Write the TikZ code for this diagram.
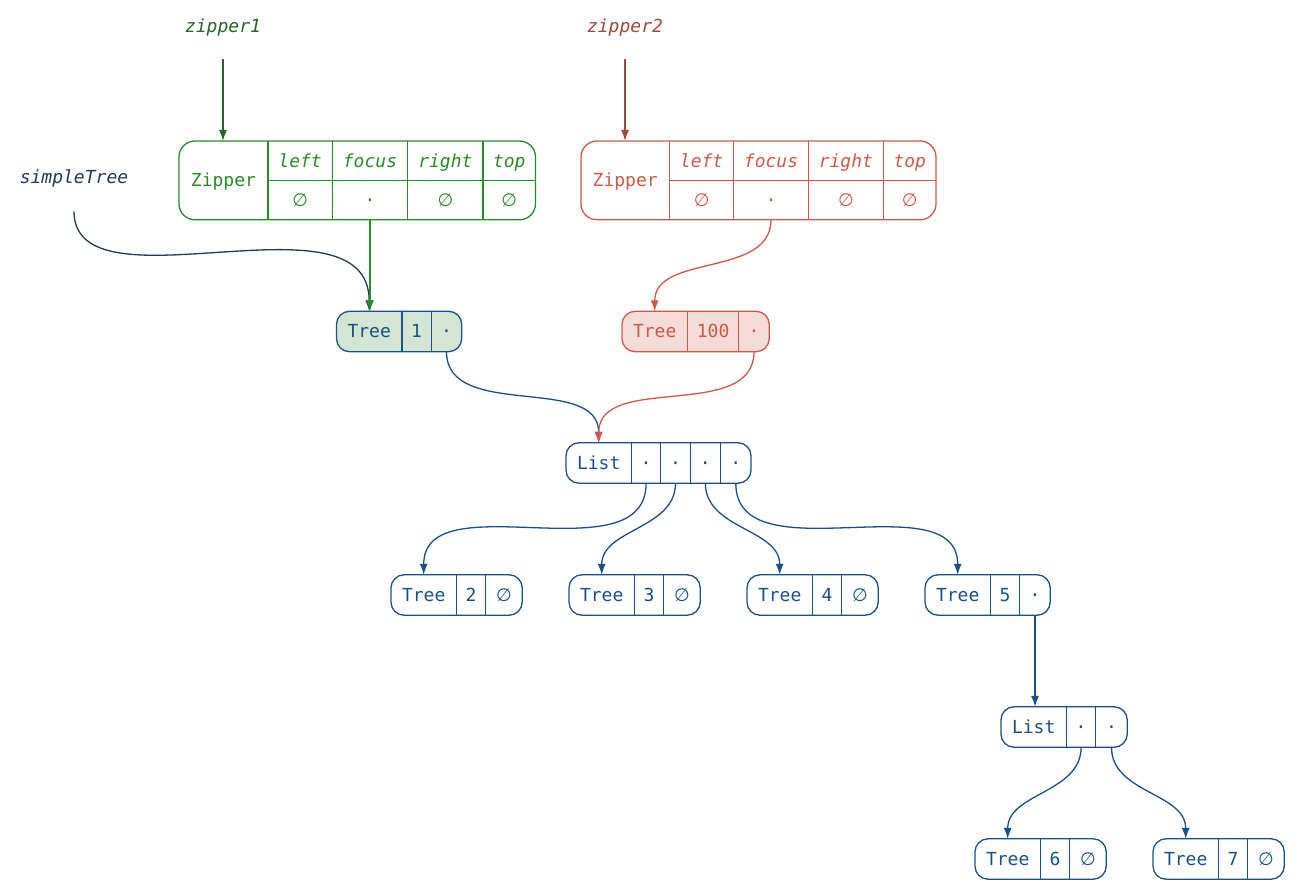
\documentclass[tikz,border=0pt]{standalone}
\usepackage{fontspec}
\setmonofont{DejaVu Sans Mono}
\newfontfamily\symfont{DejaVu Sans}
\newcommand{\nil}{{\symfont ∅}}
\usetikzlibrary{positioning,arrows.meta,backgrounds}

\definecolor{treeblue}{RGB}{26,80,138}
\definecolor{namenavy}{RGB}{30,58,95}
\definecolor{zipgreen}{RGB}{40,140,40}
\definecolor{namegreen}{RGB}{40,100,40}
\definecolor{zipred}{RGB}{208,88,70}
\definecolor{namered}{RGB}{160,72,58}
\definecolor{greenfill}{RGB}{211,230,211}
\definecolor{redfill}{RGB}{245,220,216}

\tikzset{
  cell/.style={inner sep=0pt, minimum height=40pt, text height=13pt, text depth=0pt,
    font=\ttfamily\fontsize{18}{21}\selectfont},
  tcell/.style={cell, text=treeblue},
  hcell/.style={cell, minimum height=39pt, font=\ttfamily\itshape\fontsize{18}{21}\selectfont},
  vcell/.style={cell, minimum height=39pt},
  lbl/.style={font=\ttfamily\itshape\fontsize{18}{21}\selectfont},
  box/.style={line width=1.3pt, rounded corners=13pt},
  sep/.style={line width=1.3pt},
  link/.style={line width=1.3pt, -{Latex[length=11pt,width=8pt]}},
}

\begin{document}
\begin{tikzpicture}[x=1pt,y=-1pt]
    \useasboundingbox (0,0) rectangle (1299,890);

    % Names
    \node[lbl, text=namegreen] (zip1) at (223,28) {zipper1};
    \node[lbl, text=namered] (zip2) at (625,28) {zipper2};
    \node[lbl, text=namenavy] (simple) at (74,178) {simpleTree};

    % Zipper 1
    \node[cell, text=zipgreen, minimum width=88.5pt, minimum height=78pt, anchor=north west] (z1) at (179,141) {Zipper};
    \node[hcell, text=zipgreen, minimum width=64pt, anchor=north west] (z1l) at (z1.north east) {left};
    \node[hcell, text=zipgreen, minimum width=75pt, right=0pt of z1l] (z1f) {focus};
    \node[hcell, text=zipgreen, minimum width=75pt, right=0pt of z1f] (z1r) {right};
    \node[hcell, text=zipgreen, minimum width=52pt, right=0pt of z1r] (z1t) {top};
    \node[vcell, text=zipgreen, minimum width=64pt, below=0pt of z1l] (z1vl) {\nil};
    \node[vcell, text=zipgreen, minimum width=75pt, below=0pt of z1f] (z1vf) {·};
    \node[vcell, text=zipgreen, minimum width=75pt, below=0pt of z1r] (z1vr) {\nil};
    \node[vcell, text=zipgreen, minimum width=52pt, below=0pt of z1t] (z1vt) {\nil};
    \draw[box, rounded corners=16pt, zipgreen] (z1.north west) rectangle (z1vt.south east);
    \foreach \c in {l,f,r,t}
        \draw[sep, zipgreen] (z1\c.north west) -- (z1v\c.south west);
    \draw[sep, zipgreen] (z1l.south west) -- (z1t.south east);

    % Zipper 2
    \node[cell, text=zipred, minimum width=88pt, minimum height=78pt, anchor=north west] (z2) at (581,141) {Zipper};
    \node[hcell, text=zipred, minimum width=64pt, anchor=north west] (z2l) at (z2.north east) {left};
    \node[hcell, text=zipred, minimum width=74pt, right=0pt of z2l] (z2f) {focus};
    \node[hcell, text=zipred, minimum width=75pt, right=0pt of z2f] (z2r) {right};
    \node[hcell, text=zipred, minimum width=52pt, right=0pt of z2r] (z2t) {top};
    \node[vcell, text=zipred, minimum width=64pt, below=0pt of z2l] (z2vl) {\nil};
    \node[vcell, text=zipred, minimum width=74pt, below=0pt of z2f] (z2vf) {·};
    \node[vcell, text=zipred, minimum width=75pt, below=0pt of z2r] (z2vr) {\nil};
    \node[vcell, text=zipred, minimum width=52pt, below=0pt of z2t] (z2vt) {\nil};
    \draw[box, rounded corners=16pt, zipred] (z2.north west) rectangle (z2vt.south east);
    \foreach \c in {l,f,r,t}
        \draw[sep, zipred] (z2\c.north west) -- (z2v\c.south west);
    \draw[sep, zipred] (z2l.south west) -- (z2t.south east);

    % Tree 1
    \node[tcell, minimum width=65pt, anchor=west] (t1a) at (336.5,331.5) {Tree};
    \node[tcell, minimum width=29pt, right=0pt of t1a] (t1b) {1};
    \node[tcell, minimum width=30pt, right=0pt of t1b] (t1c) {·};
    \begin{scope}[on background layer]
        \draw[box, treeblue, fill=greenfill] (t1a.north west) rectangle (t1c.south east);
    \end{scope}
    \draw[sep, treeblue] (t1b.north west) -- (t1b.south west) (t1c.north west) -- (t1c.south west);

    % Tree 100
    \node[cell, text=zipred, minimum width=65pt, anchor=west] (t100a) at (622,331.5) {Tree};
    \node[cell, text=zipred, minimum width=51pt, right=0pt of t100a] (t100b) {100};
    \node[cell, text=zipred, minimum width=30pt, right=0pt of t100b] (t100c) {·};
    \begin{scope}[on background layer]
        \draw[box, zipred, fill=redfill] (t100a.north west) rectangle (t100c.south east);
    \end{scope}
    \draw[sep, zipred] (t100b.north west) -- (t100b.south west) (t100c.north west) -- (t100c.south west);

    % List
    \node[tcell, minimum width=65pt, anchor=west] (l1a) at (566,463) {List};
    \node[tcell, minimum width=29pt, right=0pt of l1a] (l1b) {·};
    \node[tcell, minimum width=29pt, right=0pt of l1b] (l1c) {·};
    \node[tcell, minimum width=30pt, right=0pt of l1c] (l1d) {·};
    \node[tcell, minimum width=30pt, right=0pt of l1d] (l1e) {·};
    \draw[box, treeblue] (l1a.north west) rectangle (l1e.south east);
    \foreach \c in {b,c,d,e}
        \draw[sep, treeblue] (l1\c.north west) -- (l1\c.south west);

    % Leaves 2, 3, 4
    \foreach \n/\x in {2/391, 3/569, 4/747} {
        \node[tcell, minimum width=65pt, anchor=west] (t\n a) at (\x,595) {Tree};
        \node[tcell, minimum width=29pt, right=0pt of t\n a] (t\n b) {\n};
        \node[tcell, minimum width=36pt, right=0pt of t\n b] (t\n c) {\nil};
        \draw[box, treeblue] (t\n a.north west) rectangle (t\n c.south east);
        \draw[sep, treeblue] (t\n b.north west) -- (t\n b.south west) (t\n c.north west) -- (t\n c.south west);
    }

    % Tree 5
    \node[tcell, minimum width=65pt, anchor=west] (t5a) at (925,595) {Tree};
    \node[tcell, minimum width=29pt, right=0pt of t5a] (t5b) {5};
    \node[tcell, minimum width=30pt, right=0pt of t5b] (t5c) {·};
    \draw[box, treeblue] (t5a.north west) rectangle (t5c.south east);
    \draw[sep, treeblue] (t5b.north west) -- (t5b.south west) (t5c.north west) -- (t5c.south west);

    % List 2
    \node[tcell, minimum width=65pt, anchor=west] (l2a) at (1001,727) {List};
    \node[tcell, minimum width=29pt, right=0pt of l2a] (l2b) {·};
    \node[tcell, minimum width=31pt, right=0pt of l2b] (l2c) {·};
    \draw[box, treeblue] (l2a.north west) rectangle (l2c.south east);
    \draw[sep, treeblue] (l2b.north west) -- (l2b.south west) (l2c.north west) -- (l2c.south west);

    % Leaves 6, 7
    \foreach \n/\x in {6/975, 7/1153} {
        \node[tcell, minimum width=65pt, anchor=west] (t\n a) at (\x,859) {Tree};
        \node[tcell, minimum width=29pt, right=0pt of t\n a] (t\n b) {\n};
        \node[tcell, minimum width=36pt, right=0pt of t\n b] (t\n c) {\nil};
        \draw[box, treeblue] (t\n a.north west) rectangle (t\n c.south east);
        \draw[sep, treeblue] (t\n b.north west) -- (t\n b.south west) (t\n c.north west) -- (t\n c.south west);
    }

    % Pointers from names
    \draw[link, namegreen, shorten <=19pt] (zip1.south) -- (zip1.south |- z1.north);
    \draw[link, namered, shorten <=19pt] (zip2.south) -- (zip2.south |- z2.north);
    \draw[link, namenavy, shorten <=21pt] (simple.south) to[out=-90, in=90] (t1a.north);

    % Focus pointers
    \draw[link, zipgreen] (z1vf.south) -- (z1vf.south |- t1a.north);
    \draw[link, zipred] (z2vf.south) to[out=-90, in=90] (t100a.north);

    % Children
    \draw[link, treeblue] (t1c.south) to[out=-90, in=90] (l1a.north);
    \draw[link, zipred] (t100c.south) to[out=-90, in=90] (l1a.north);
    \draw[link, treeblue] (l1b.south) to[out=-90, in=90] (t2a.north);
    \draw[link, treeblue] (l1c.south) to[out=-90, in=90] (t3a.north);
    \draw[link, treeblue] (l1d.south) to[out=-90, in=90] (t4a.north);
    \draw[link, treeblue] (l1e.south) to[out=-90, in=90] (t5a.north);
    \draw[link, treeblue] (t5c.south) -- (t5c.south |- l2a.north);
    \draw[link, treeblue] (l2b.south) to[out=-90, in=90] (t6a.north);
    \draw[link, treeblue] (l2c.south) to[out=-90, in=90] (t7a.north);

\end{tikzpicture}
\end{document}
